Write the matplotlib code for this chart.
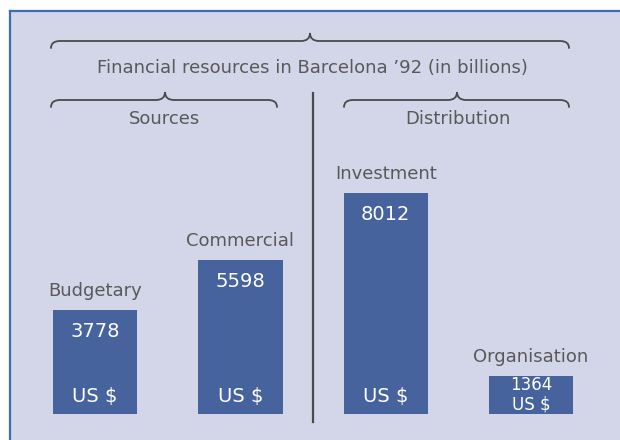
import matplotlib.pyplot as plt
from matplotlib.path import Path
from matplotlib.patches import PathPatch, Rectangle

# financial resources of Barcelona '92, in billions
categories = ['Budgetary', 'Commercial', 'Investment', 'Organisation']
values = [3778, 5598, 8012, 1364]
unit = 'US $'
title = "Financial resources in Barcelona \u201992 (in billions)"
groups = ['Sources', 'Distribution']

BAR = '#46639e'
PANEL = '#d3d6e8'
EDGE = '#3e6db5'
GREY = '#595959'
DARK = '#4a4a4a'
plt.rcParams['font.family'] = ['DejaVu Sans']


def brace(ax, x0, x1, xm, y_flat, y_end, y_tip, r=9):
    verts = [(x0, y_end), (x0, y_flat), (x0 + r, y_flat),
             (xm - r, y_flat), (xm, y_flat), (xm, y_tip),
             (xm, y_flat), (xm + r, y_flat),
             (x1 - r, y_flat), (x1, y_flat), (x1, y_end)]
    codes = [Path.MOVETO, Path.CURVE3, Path.CURVE3,
             Path.LINETO, Path.CURVE3, Path.CURVE3,
             Path.CURVE3, Path.CURVE3,
             Path.LINETO, Path.CURVE3, Path.CURVE3]
    ax.add_patch(PathPatch(Path(verts, codes), fill=False, edgecolor=DARK,
                           lw=1.3, capstyle='round'))


fig = plt.figure(figsize=(6.2, 4.4), dpi=100)
fig.patch.set_facecolor('white')

# decoration layer in pixel units (y down)
deco = fig.add_axes([0, 0, 1, 1], zorder=0)
deco.set_xlim(0, 620)
deco.set_ylim(440, 0)
deco.axis('off')
deco.add_patch(Rectangle((10, 11), 620, 440, facecolor=PANEL, edgecolor='none'))
deco.plot([10, 620], [11, 11], color=EDGE, lw=1.6)
deco.plot([10, 10], [11, 440], color=EDGE, lw=1.6)

brace(deco, 51, 569, 310, 41, 48, 33)
deco.text(312, 68, title, ha='center', va='center', fontsize=13, color=GREY)
brace(deco, 51, 277, 165, 100, 107, 92)
brace(deco, 344, 569, 457, 100, 107, 92)
deco.text(165, 119, groups[0], ha='center', va='center', fontsize=13, color=GREY)
deco.text(458, 119, groups[1], ha='center', va='center', fontsize=13, color=GREY)
deco.plot([313, 313], [93, 422], color=DARK, lw=1.6)

# bars
ax = fig.add_axes([0, 26 / 440, 1, 414 / 440], zorder=1)
ax.patch.set_alpha(0)
ax.axis('off')
ax.set_xlim(-0.654, 3.612)
ax.set_ylim(0, max(values) * 1.873)
x = range(len(categories))
ax.bar(x, values, width=0.58, color=BAR)

for i, (cat, v) in enumerate(zip(categories, values)):
    ax.annotate(cat, (i, v), xytext=(0, 19), textcoords='offset pixels',
                ha='center', va='center', fontsize=13, color=GREY)
    bar_px = ax.transData.transform((0, v))[1] - ax.transData.transform((0, 0))[1]
    if bar_px > 80:
        top_off, bot_off, fs = -22, 18, 14
    else:
        # short bar: stack both labels tightly
        top_off, bot_off, fs = -9, 10, 12
    ax.annotate(str(v), (i, v), xytext=(0, top_off), textcoords='offset pixels',
                ha='center', va='center', fontsize=fs, color='white')
    ax.annotate(unit, (i, 0), xytext=(0, bot_off), textcoords='offset pixels',
                ha='center', va='center', fontsize=fs, color='white')

fig.savefig('out.png', dpi=100)
